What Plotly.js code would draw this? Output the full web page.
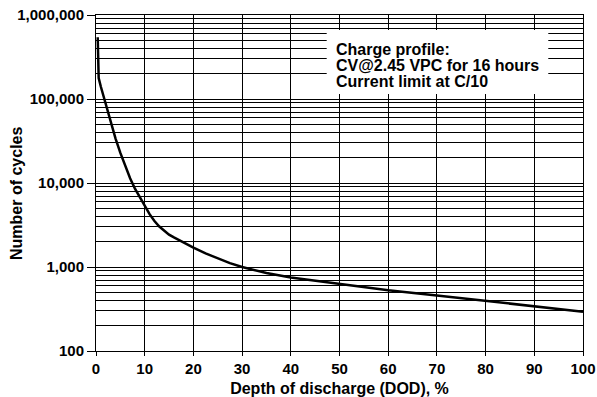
<!DOCTYPE html>
<html>
<head>
<meta charset="utf-8">
<script src="https://cdn.plot.ly/plotly-3.0.1.min.js"></script>
<style>html,body{margin:0;padding:0;background:#fff;}#chart{width:597px;height:397px;}</style>
</head>
<body>
<div id="chart"></div>
<script>
// Data
const dod = [0.35, 0.55, 1, 2, 3, 4, 5, 6, 7, 8, 9, 10, 11, 12, 13, 14, 15, 16, 18, 20, 22.5, 25, 27.5, 30, 35, 40, 45, 50, 60, 70, 80, 90, 100];
const cycles = [544000, 177500, 140000, 86300, 52800, 34000, 22800, 15800, 11400, 8560, 6660, 5390, 4260, 3520, 3030, 2690, 2430, 2250, 1940, 1700, 1450, 1260, 1110, 1000, 847, 749, 684, 634, 529, 459, 393, 341, 293];

const xTicks = [0, 10, 20, 30, 40, 50, 60, 70, 80, 90, 100];
const yMajor = [100, 1000, 10000, 100000, 1000000];
const yMajorText = ['100', '1,000', '10,000', '100,000', '1,000,000'];
const yMinor = [];
for (let d = 100; d < 1000000; d *= 10) {
  for (let k = 2; k <= 9; k++) yMinor.push(d * k);
}

const noteLines = ['Charge profile:', 'CV@2.45 VPC for 16 hours', 'Current limit at C/10'];
const xTitle = 'Depth of discharge (DOD), %';
const yTitle = 'Number of cycles';

const fam = 'Liberation Sans, Arial, sans-serif';
const tickFont = {family: fam, size: 15, color: '#000', weight: 'bold'};
const titleFont = {family: fam, size: 16, color: '#000', weight: 'bold'};
const b = s => '<b>' + s + '</b>';

const trace = {
  x: dod, y: cycles, type: 'scatter', mode: 'lines',
  line: {color: '#000', width: 2.5},
  hoverinfo: 'skip'
};

// paper coordinates of plot area: left 96, right 583, top 15, bottom 351 (px)
const noteY = [0.8973, 0.8497, 0.8006];
const annotations = noteLines.map((t, i) => ({
  xref: 'paper', yref: 'paper', x: 0.4887, y: noteY[i],
  xanchor: 'left', yanchor: 'middle',
  text: b(t), showarrow: false, align: 'left',
  font: titleFont
}));
annotations.push({
  xref: 'paper', yref: 'paper', x: -0.1632, y: 0.4688,
  xanchor: 'center', yanchor: 'middle', textangle: -90,
  text: b(yTitle), showarrow: false,
  font: titleFont
});

const layout = {
  width: 597, height: 397,
  margin: {l: 96, r: 14, t: 15, b: 46},
  paper_bgcolor: '#fff', plot_bgcolor: '#fff',
  showlegend: false,
  font: {family: fam, size: 15, color: '#000'},
  xaxis: {
    range: [0, 100], tickvals: xTicks, ticktext: xTicks.map(v => b(String(v))),
    showgrid: true, gridcolor: '#000', gridwidth: 1,
    zeroline: false, showline: true, linecolor: '#000', linewidth: 1, mirror: true,
    ticks: 'outside', ticklen: 4, tickcolor: '#000',
    tickfont: tickFont,
    title: {text: b(xTitle), font: titleFont, standoff: 6}
  },
  yaxis: {
    type: 'log', range: [2, 6], tickvals: yMajor, ticktext: yMajorText.map(b),
    showgrid: true, gridcolor: '#000', gridwidth: 1,
    zeroline: false, showline: true, linecolor: '#000', linewidth: 1, mirror: true,
    ticks: 'outside', ticklen: 8, tickcolor: '#000',
    tickfont: tickFont,
    minor: {tickvals: yMinor, showgrid: true, gridcolor: '#000', gridwidth: 1, ticks: ''}
  },
  shapes: [{
    type: 'rect', xref: 'paper', yref: 'paper', layer: 'above',
    x0: 0.4737, x1: 0.9287, y0: 0.7649, y1: 0.9554,
    fillcolor: '#fff', line: {width: 0}
  }],
  annotations: annotations
};

Plotly.newPlot('chart', [trace], layout, {displayModeBar: false, staticPlot: true});
</script>
</body>
</html>
